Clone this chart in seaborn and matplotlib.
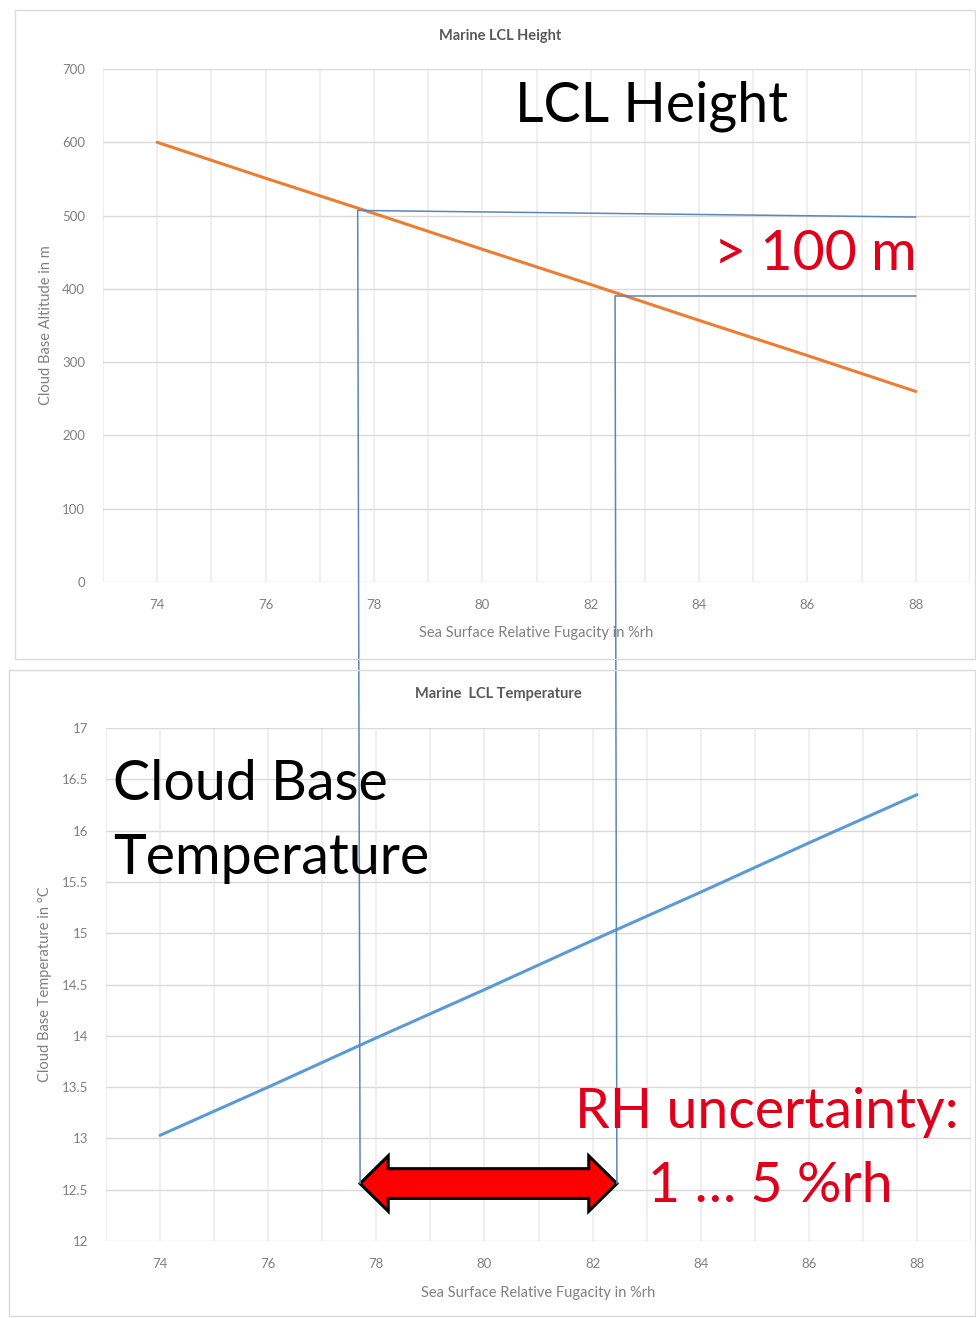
import matplotlib
matplotlib.use("Agg")
import matplotlib.pyplot as plt
from matplotlib.patches import ConnectionPatch, Polygon, Rectangle
from matplotlib.ticker import MultipleLocator, FuncFormatter
import pandas as pd
import seaborn as sns

# data
rh = [74, 76, 78, 80, 82, 84, 86, 88]
lcl_height = [600, 551, 503, 454, 406, 357, 309, 260]
lcl_temp = [13.03, 13.50, 13.98, 14.45, 14.93, 15.40, 15.88, 16.35]

rh_bounds = [77.7, 82.45]          # RH uncertainty range
height_at_bounds = [507, 390]      # LCL height where the guides start
height_guide_end = [498, 390]      # LCL height where the guides end (at 88 %rh)
guide_end_rh = 88
arrow_temp = 12.56                 # level of the red double arrow

sns.set_style("white")
plt.rcParams["font.family"] = ["Lato", "DejaVu Sans"]

ORANGE = "#ED7D31"
BLUE = "#5B9BD5"
GUIDE = "#5a86b8"
GRID = "#d9d9d9"
TICK = "#808080"
RED = "#e0001b"

fig = plt.figure(figsize=(9.76, 13.18), dpi=100)
W, H = 976, 1318


def px_axes(left, top, right, bottom):
    return fig.add_axes([left / W, 1 - bottom / H, (right - left) / W, (bottom - top) / H])


# panel frames
fig.patches.append(Rectangle((15 / W, 1 - 659 / H), (975 - 15) / W, (659 - 10) / H,
                             transform=fig.transFigure, fill=False, ec="#dadada", lw=1))
fig.patches.append(Rectangle((9 / W, 1 - 1316 / H), (975 - 9) / W, (1316 - 670) / H,
                             transform=fig.transFigure, fill=False, ec="#dadada", lw=1))

ax1 = px_axes(103, 69, 970, 582)
ax2 = px_axes(106, 728, 971, 1241)

df = pd.DataFrame({"rh": rh, "height": lcl_height, "temp": lcl_temp})
sns.lineplot(data=df, x="rh", y="height", ax=ax1, color=ORANGE, lw=2.2)
sns.lineplot(data=df, x="rh", y="temp", ax=ax2, color=BLUE, lw=2.2)

even_only = FuncFormatter(lambda v, p: f"{v:g}" if round(v) % 2 == 0 else "")

for ax, ylim, ystep in [(ax1, (0, 700), 100), (ax2, (12, 17), 0.5)]:
    ax.set_xlim(73, 89)
    ax.set_ylim(*ylim)
    ax.xaxis.set_major_locator(MultipleLocator(1))
    ax.xaxis.set_major_formatter(even_only)
    ax.yaxis.set_major_locator(MultipleLocator(ystep))
    ax.xaxis.grid(True, color="#ececec", lw=1.2)
    ax.yaxis.grid(True, color=GRID, lw=1)
    ax.set_axisbelow(True)
    for s in ax.spines.values():
        s.set_visible(False)
    ax.tick_params(which="both", length=0, colors=TICK, labelsize=9.5)
    ax.tick_params(axis="x", pad=12)
    ax.tick_params(axis="y", pad=13)
    ax.set_xlabel("Sea Surface Relative Fugacity in %rh", color=TICK, fontsize=10.5)

ax2.yaxis.set_major_formatter(FuncFormatter(lambda v, p: f"{v:g}"))

ax1.set_ylabel("Cloud Base Altitude in m", color=TICK, fontsize=10.5)
ax2.set_ylabel("Cloud Base Temperature in °C", color=TICK, fontsize=10.5)
ax1.yaxis.set_label_coords(-0.058, 0.5)
ax2.yaxis.set_label_coords(-0.063, 0.5)
ax1.xaxis.set_label_coords(0.5, -0.086)
ax2.xaxis.set_label_coords(0.5, -0.088)

ax1.text(0.458, 1.064, "Marine LCL Height", transform=ax1.transAxes, ha="center",
         va="center", fontsize=10.5, fontweight="bold", color="#595959")
ax2.text(0.454, 1.066, "Marine  LCL Temperature", transform=ax2.transAxes, ha="center",
         va="center", fontsize=10.5, fontweight="bold", color="#595959")

# horizontal guides in the height panel
for x0, y0, y1 in zip(rh_bounds, height_at_bounds, height_guide_end):
    ax1.plot([x0, guide_end_rh], [y0, y1], color=GUIDE, lw=1.1)
    # vertical guides down into the temperature panel
    con = ConnectionPatch(xyA=(x0, y0), coordsA=ax1.transData,
                          xyB=(x0, arrow_temp), coordsB=ax2.transData,
                          color=GUIDE, lw=1.1)
    fig.add_artist(con)

# red double arrow between the RH bounds
lo, hi = rh_bounds
head_len = 0.52
shaft_h = 0.145
head_h = 0.27
arrow_pts = [
    (lo, arrow_temp),
    (lo + head_len, arrow_temp + head_h),
    (lo + head_len, arrow_temp + shaft_h),
    (hi - head_len, arrow_temp + shaft_h),
    (hi - head_len, arrow_temp + head_h),
    (hi, arrow_temp),
    (hi - head_len, arrow_temp - head_h),
    (hi - head_len, arrow_temp - shaft_h),
    (lo + head_len, arrow_temp - shaft_h),
    (lo + head_len, arrow_temp - head_h),
]
ax2.add_patch(Polygon(arrow_pts, closed=True, fc="#ff0000", ec="black", lw=2.2,
                      joinstyle="miter", zorder=5))

# big annotations
BIG = 40
fig.text(515 / W, 1 - 106 / H, "LCL Height", ha="left", va="center",
         fontsize=BIG, color="black")
fig.text(917 / W, 1 - 255 / H, "> 100 m", ha="right", va="center",
         fontsize=BIG, color=RED)
fig.text(113 / W, 1 - 785 / H, "Cloud Base", ha="left", va="center",
         fontsize=BIG, color="black")
fig.text(113 / W, 1 - 858 / H, "Temperature", ha="left", va="center",
         fontsize=BIG, color="black")
fig.text(575 / W, 1 - 1113 / H, "RH uncertainty:", ha="left", va="center",
         fontsize=BIG, color=RED)
fig.text(648 / W, 1 - 1187 / H, "1 … 5 %rh", ha="left", va="center",
         fontsize=BIG, color=RED)

fig.savefig("out.png", dpi=100, facecolor="white")
